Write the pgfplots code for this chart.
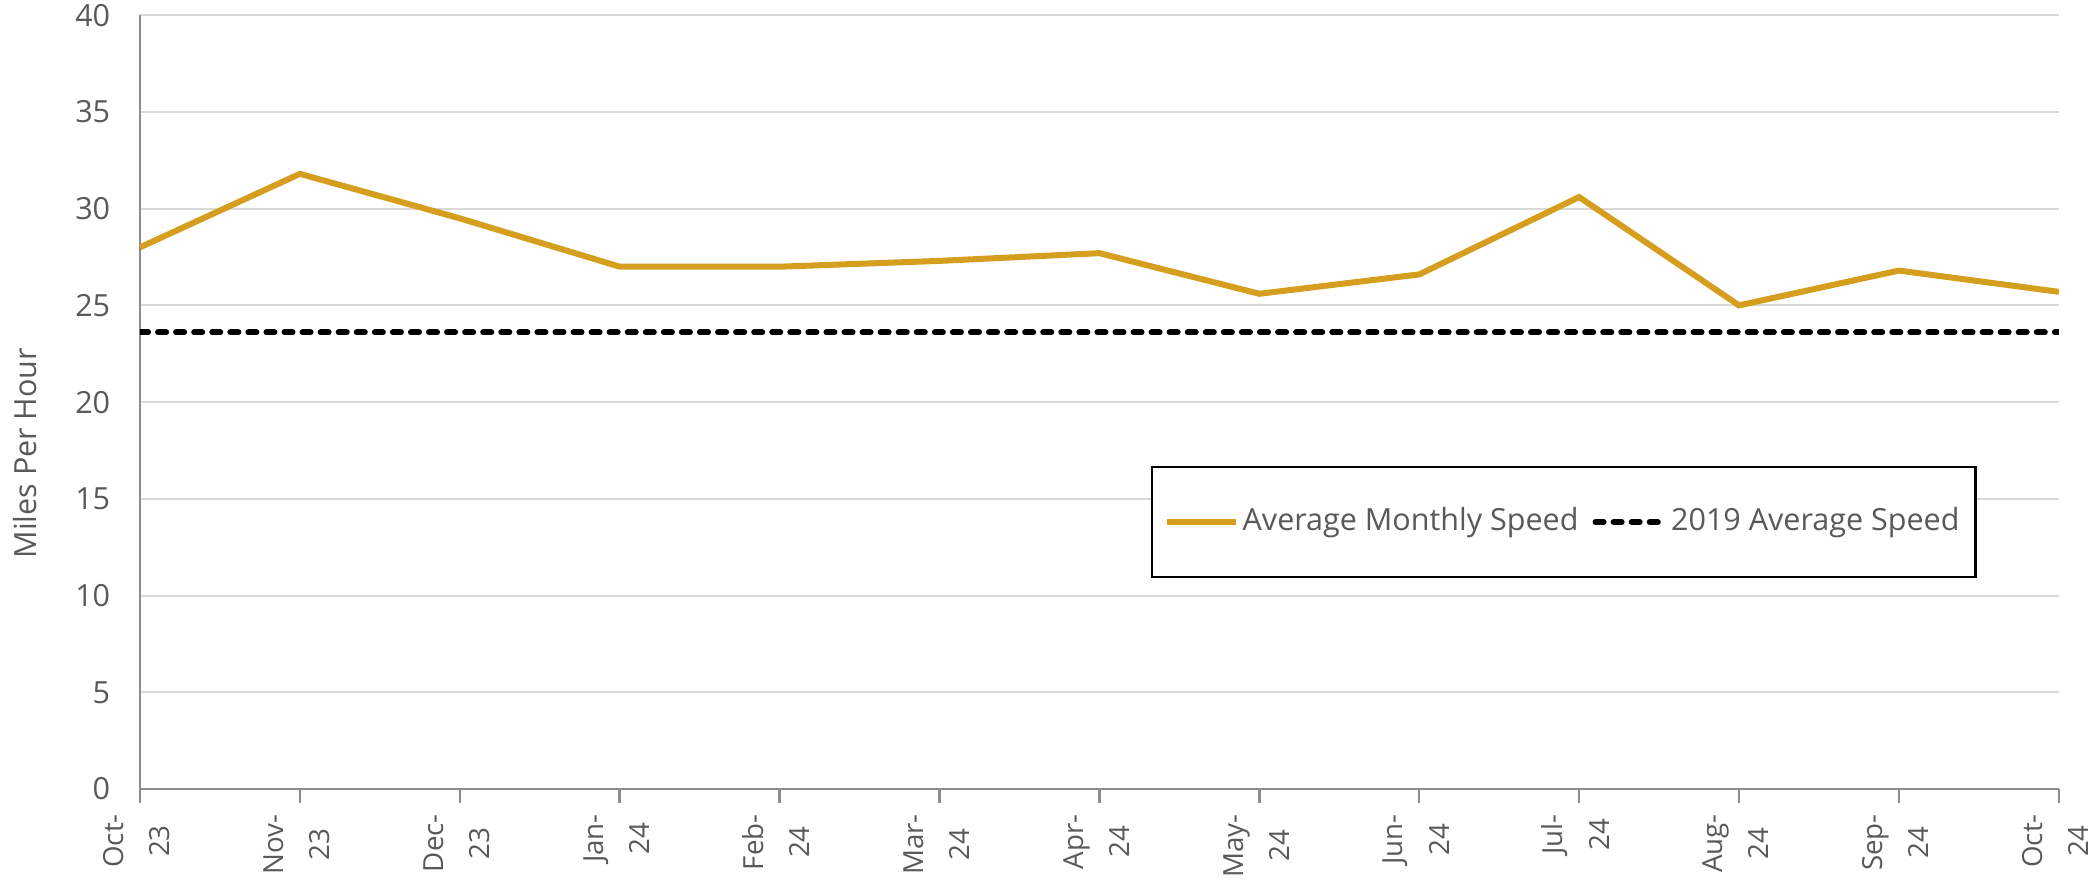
\documentclass[border=0pt]{standalone}
\usepackage{pgfplots}
\pgfplotsset{compat=1.18}
\usepackage{fontspec}
\setmainfont{Open Sans}
\definecolor{speedgold}{RGB}{214,158,30}
\definecolor{txtgray}{RGB}{89,89,89}
\definecolor{gridgray}{RGB}{217,217,217}
\definecolor{axgray}{RGB}{140,140,140}
% two-line month label, centred
\newcommand{\mlbl}[2]{\begin{tabular}{@{}c@{}}#1-\\[3pt]#2\end{tabular}}

\begin{document}
\begin{tikzpicture}
\begin{axis}[
  scale only axis,
  width=478pt, height=192.75pt,
  xmin=0, xmax=12, ymin=0, ymax=40,
  ytick={0,5,...,40},
  xtick={0,...,12},
  xticklabels={{\mlbl{Oct}{23}},{\mlbl{Nov}{23}},{\mlbl{Dec}{23}},{\mlbl{Jan}{24}},{\mlbl{Feb}{24}},{\mlbl{Mar}{24}},{\mlbl{Apr}{24}},{\mlbl{May}{24}},{\mlbl{Jun}{24}},{\mlbl{Jul}{24}},{\mlbl{Aug}{24}},{\mlbl{Sep}{24}},{\mlbl{Oct}{24}}},
  axis lines*=left,
  axis line style={axgray, line width=0.6pt},
  ymajorgrids, grid style={gridgray, line width=0.5pt},
  tick align=outside,
  major tick length=3.6pt,
  xtick style={axgray, line width=0.6pt},
  ytick style={draw=none},
  font=\fontsize{7.6}{8.6}\selectfont,
  tick label style={txtgray},
  xticklabel style={rotate=90, anchor=east, inner xsep=2.5pt, inner ysep=0pt,
    font=\fontsize{6.9}{8.5}\selectfont},
  yticklabel style={xshift=-0.3pt, inner ysep=1pt},
  /pgf/number format/assume math mode=true,
  ylabel={Miles Per Hour},
  ylabel shift=2.7pt,
  ylabel style={txtgray, at={(ticklabel cs:0.434)}},
  legend style={at={(0.742,0.345)}, anchor=center, draw=black, line width=0.6pt,
    inner xsep=3pt, inner ysep=8pt, legend columns=2,
    nodes={inner xsep=1pt},
    /tikz/every even column/.append style={column sep=2.5pt},
    font=\fontsize{7.6}{8.6}\selectfont, text=txtgray},
  legend image code/.code={\draw[#1] (0cm,0cm) -- (0.6cm,0cm);},
]
\addplot[speedgold, line width=1.5pt] coordinates {
  (0,28.0) (1,31.8) (2,29.5) (3,27.0) (4,27.0) (5,27.3) (6,27.7)
  (7,25.6) (8,26.6) (9,30.6) (10,25.0) (11,26.8) (12,25.7)};
\addplot[black, line width=1.5pt, line cap=round, dash pattern=on 2pt off 2.5pt] coordinates {
  (0,23.6) (12,23.6)};
\legend{Average Monthly Speed, 2019 Average Speed}
\path (rel axis cs:1,1) ++(14pt,0pt);
\end{axis}
\end{tikzpicture}
\end{document}
